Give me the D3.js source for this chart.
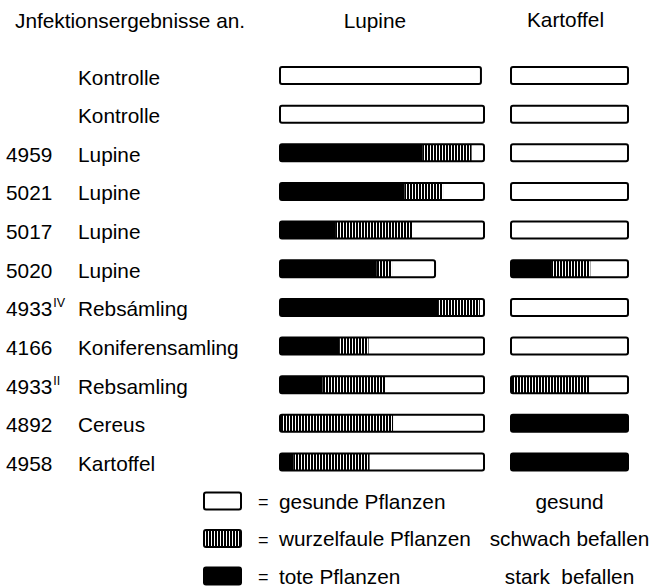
<!DOCTYPE html>
<html>
<head>
<meta charset="utf-8">
<script src="https://cdn.jsdelivr.net/npm/d3@7"></script>
<style>
  body { margin: 0; background: #fff; }
  text { font-family: "Liberation Sans", Arial, sans-serif; fill: #000; }
</style>
</head>
<body>
<svg id="chart" width="652" height="587"></svg>
<script>
/* global d3 */

// rows of the table
let ids = ['', '', '4959', '5021', '5017', '5020', '4933', '4166', '4933', '4892', '4958'];
let sups = ['', '', '', '', '', '', 'IV', '', 'II', '', ''];
let hosts = ['Kontrolle', 'Kontrolle', 'Lupine', 'Lupine', 'Lupine', 'Lupine',
  'Rebsámling', 'Koniferensamling', 'Rebsamling', 'Cereus', 'Kartoffel'];

// Lupine: tote / wurzelfaule / gesunde Pflanzen (share of a full bar)
let lupineTot = [0, 0, 70, 61, 27, 47.5, 77.5, 29, 21, 0, 6.5];
let lupineWurzel = [0, 0, 24, 19, 38, 7.5, 20.5, 14.5, 30.5, 55.5, 37.5];
let lupineGesund = [98.5, 100, 6, 20, 35, 21, 2, 56.5, 48.5, 44.5, 56];

// Kartoffel: stark / schwach befallen / gesund
let kartTot = [0, 0, 0, 0, 0, 35, 0, 0, 0, 100, 100];
let kartWurzel = [0, 0, 0, 0, 0, 33, 0, 0, 67.5, 0, 0];
let kartGesund = [100, 100, 100, 100, 100, 32, 100, 100, 32.5, 0, 0];

let legendLeft = ['gesunde Pflanzen', 'wurzelfaule Pflanzen', 'tote Pflanzen'];
let legendRight = ['gesund', 'schwach befallen', 'stark  befallen'];

const svg = d3.select('#chart');
const barH = 17;
const fs = 20.8;

// vertical stripes for the "wurzelfaul" part
const pat = svg.append('defs').append('pattern')
  .attr('id', 'hatch')
  .attr('patternUnits', 'userSpaceOnUse')
  .attr('width', 3)
  .attr('height', 20);
pat.append('rect').attr('width', 3).attr('height', 20).attr('fill', '#000');
pat.append('rect').attr('x', 1).attr('width', 1).attr('height', 20).attr('fill', '#fff')
  .attr('shape-rendering', 'crispEdges');

const fills = ['#000', 'url(#hatch)', '#fff'];

let y = d3.scalePoint().domain(d3.range(hosts.length)).range([75.5, 462]);
let xL = d3.scaleLinear().domain([0, 100]).range([280, 484]);
let xK = d3.scaleLinear().domain([0, 100]).range([511, 628]);

function drawBars(xs, tot, wurzel, gesund) {
  let rows = hosts.map((h, i) => {
    let vals = [tot[i], wurzel[i], gesund[i]];
    let acc = 0;
    let segs = vals.map((v, k) => {
      let s = {row: i, k: k, x0: acc, x1: acc + v};
      acc += v;
      return s;
    }).filter((s) => s.x1 > s.x0);
    return {row: i, total: acc, segs: segs};
  });

  let rg = svg.append('g').selectAll('g').data(rows).enter().append('g');

  rg.selectAll('rect.seg').data((d) => d.segs).enter().append('rect')
    .attr('class', 'seg')
    .attr('x', (d) => xs(d.x0))
    .attr('y', (d) => y(d.row) - barH / 2)
    .attr('width', (d) => xs(d.x1) - xs(d.x0))
    .attr('height', barH)
    .attr('fill', (d) => fills[d.k]);

  rg.append('rect')
    .attr('x', xs(0))
    .attr('y', (d) => y(d.row) - barH / 2)
    .attr('width', (d) => xs(d.total) - xs(0))
    .attr('height', barH)
    .attr('rx', 2)
    .attr('fill', 'none')
    .attr('stroke', '#000')
    .attr('stroke-width', 2);
}

drawBars(xL, lupineTot, lupineWurzel, lupineGesund);
drawBars(xK, kartTot, kartWurzel, kartGesund);

// headers
svg.append('text').attr('x', 15).attr('y', 28).attr('font-size', fs)
  .text('Jnfektionsergebnisse an.');
svg.append('text').attr('x', xL(46.5)).attr('y', 28).attr('font-size', fs)
  .attr('text-anchor', 'middle').text('Lupine');
svg.append('text').attr('x', (xK(0) + xK(100)) / 2 - 4).attr('y', 27).attr('font-size', fs)
  .attr('text-anchor', 'middle').text('Kartoffel');

// row labels, with the roman superscripts after the strain number
let idText = svg.append('g').selectAll('text').data(ids).enter().append('text')
  .attr('x', 6)
  .attr('y', (d, i) => y(i) + 9)
  .attr('font-size', fs)
  .text((d) => d);
idText.each(function (d, i) {
  if (sups[i] !== '') {
    d3.select(this).append('tspan')
      .attr('dy', -9)
      .attr('dx', 1)
      .attr('font-size', 12.5)
      .text(sups[i]);
  }
});

svg.append('g').selectAll('text').data(hosts).enter().append('text')
  .attr('x', 78)
  .attr('y', (d, i) => y(i) + 9)
  .attr('font-size', fs)
  .text((d) => d);

// legend
let ly = d3.scalePoint().domain(d3.range(legendLeft.length)).range([501, 576]);
let legendFills = ['#fff', 'url(#hatch)', '#000'];

let lg = svg.append('g').selectAll('g').data(legendLeft).enter().append('g');
lg.append('rect')
  .attr('x', 204)
  .attr('y', (d, i) => ly(i) - barH / 2)
  .attr('width', 37)
  .attr('height', barH)
  .attr('rx', 2)
  .attr('fill', (d, i) => legendFills[i])
  .attr('stroke', '#000')
  .attr('stroke-width', 2);
lg.append('text')
  .attr('x', 258)
  .attr('y', (d, i) => ly(i) + 7)
  .attr('font-size', 18)
  .text('=');
lg.append('text')
  .attr('x', 279)
  .attr('y', (d, i) => ly(i) + 7.5)
  .attr('font-size', fs)
  .text((d) => d);
lg.append('text')
  .attr('x', (xK(0) + xK(100)) / 2)
  .attr('y', (d, i) => ly(i) + 7.5)
  .attr('font-size', fs)
  .attr('text-anchor', 'middle')
  .style('white-space', 'pre')
  .text((d, i) => legendRight[i]);
</script>
</body>
</html>
